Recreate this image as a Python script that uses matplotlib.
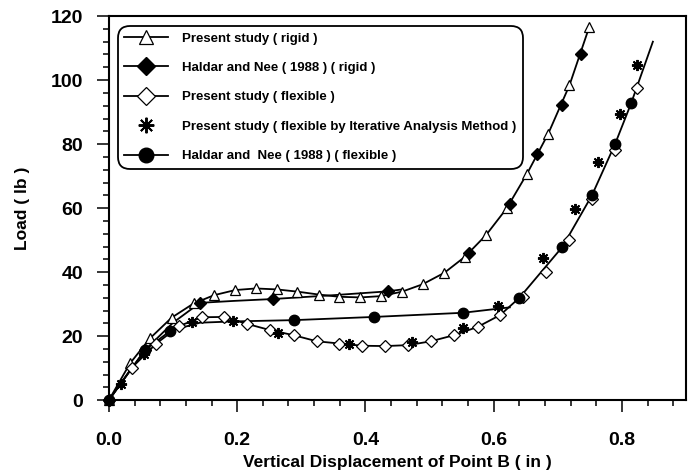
import matplotlib
matplotlib.use("Agg")
import matplotlib.pyplot as plt
from matplotlib.ticker import MultipleLocator
from matplotlib.legend_handler import HandlerTuple

plt.rcParams['font.family'] = ['Liberation Sans', 'DejaVu Sans']
plt.rcParams['font.weight'] = 'bold'

# Present study (rigid) - open triangles
rigid_x = [0, 0.033, 0.064, 0.098, 0.132, 0.164, 0.197, 0.229, 0.262, 0.294, 0.327, 0.359,
           0.392, 0.424, 0.457, 0.489, 0.523, 0.555, 0.588, 0.620, 0.652, 0.685, 0.718, 0.749]
rigid_y = [0, 11.5, 19.3, 25.8, 30.2, 32.8, 34.4, 34.9, 34.6, 33.9, 33.0, 32.3,
           32.1, 32.5, 33.9, 36.2, 39.8, 44.8, 51.6, 59.9, 70.8, 83.3, 98.4, 116.7]

# Haldar and Nee (1988) rigid - filled diamonds
hn_rigid_x = [0, 0.056, 0.142, 0.256, 0.435, 0.561, 0.625, 0.667, 0.706, 0.736]
hn_rigid_y = [0, 15.6, 30.4, 31.6, 34.0, 46.0, 61.2, 76.9, 92.2, 108.2]
# lower branch of the Haldar rigid curve (joins the present-study curve near 0.46)
hn_rigid_curve_x = [0, 0.056, 0.100, 0.142, 0.194, 0.256, 0.350, 0.435, 0.457]
hn_rigid_curve_y = [0, 15.6, 24.2, 30.4, 31.0, 31.6, 32.8, 34.0, 34.6]

# Present study (flexible) - open diamonds
flex_x = [0, 0.036, 0.074, 0.110, 0.145, 0.179, 0.216, 0.251, 0.288, 0.324, 0.359, 0.395,
          0.431, 0.467, 0.502, 0.538, 0.575, 0.610, 0.646, 0.681, 0.718, 0.753, 0.789, 0.824]
flex_y = [0, 10.2, 17.7, 23.2, 25.9, 26.0, 23.8, 21.9, 20.3, 18.4, 17.7, 17.0,
          16.9, 17.2, 18.4, 20.3, 22.9, 26.6, 32.1, 40.1, 50.0, 63.0, 78.1, 97.4]
flex_curve_x = [0, 0.036, 0.074, 0.110, 0.145, 0.179, 0.216, 0.251, 0.288, 0.324, 0.359, 0.395,
                0.431, 0.467, 0.502, 0.538, 0.575, 0.610, 0.640, 0.707, 0.753, 0.789, 0.814, 0.848]
flex_curve_y = [0, 10.2, 17.7, 23.2, 25.9, 26.0, 23.8, 21.9, 20.3, 18.4, 17.7, 17.0,
                16.9, 17.2, 18.4, 20.3, 22.9, 26.6, 32.0, 47.9, 64.0, 80.0, 92.7, 112.0]

# Present study (flexible, iterative analysis) - asterisks, no line
iter_x = [0.019, 0.054, 0.129, 0.194, 0.264, 0.375, 0.472, 0.552, 0.606, 0.677, 0.726, 0.763, 0.796, 0.823]
iter_y = [5.1, 14.3, 24.5, 24.7, 21.1, 17.5, 18.2, 22.7, 29.4, 44.5, 59.6, 74.5, 89.5, 104.7]

# Haldar and Nee (1988) flexible - filled circles
hn_flex_x = [0, 0.056, 0.096, 0.288, 0.413, 0.552, 0.640, 0.707, 0.753, 0.789, 0.814]
hn_flex_y = [0, 15.6, 21.7, 25.0, 26.0, 27.3, 32.0, 47.9, 64.0, 80.0, 92.7]
hn_flex_curve_x = [0, 0.056, 0.096, 0.142, 0.194, 0.288, 0.413, 0.552, 0.625]
hn_flex_curve_y = [0, 15.6, 21.7, 24.2, 24.6, 25.0, 26.0, 27.3, 29.0]

labels = ['Present study ( rigid )',
          'Haldar and Nee ( 1988 ) ( rigid )',
          'Present study ( flexible )',
          'Present study ( flexible by Iterative Analysis Method )',
          'Haldar and  Nee ( 1988 ) ( flexible )']

fig = plt.figure(figsize=(6.89, 4.73), dpi=100)
ax = fig.add_axes([0.158, 0.154, 0.838, 0.812])

lw = 1.3
l1, = ax.plot(rigid_x, rigid_y, color='k', lw=lw, zorder=2)
l2, = ax.plot(hn_rigid_curve_x, hn_rigid_curve_y, color='k', lw=lw, zorder=2)
l3, = ax.plot(flex_curve_x, flex_curve_y, color='k', lw=lw, zorder=2)
l5, = ax.plot(hn_flex_curve_x, hn_flex_curve_y, color='k', lw=lw, zorder=2)

m1, = ax.plot(rigid_x, rigid_y, ls='none', marker='^', ms=7, mfc='white', mec='k', mew=0.9, zorder=3, clip_on=False)
m2, = ax.plot(hn_rigid_x, hn_rigid_y, ls='none', marker='D', ms=6.5, mfc='k', mec='k', zorder=4, clip_on=False)
m3, = ax.plot(flex_x, flex_y, ls='none', marker='D', ms=6.5, mfc='white', mec='k', mew=0.9, zorder=3, clip_on=False)
m4, = ax.plot(iter_x, iter_y, ls='none', marker=(8, 2, 0), ms=8, mec='k', mew=1.4, zorder=5, clip_on=False)
m5, = ax.plot(hn_flex_x, hn_flex_y, ls='none', marker='o', ms=7.5, mfc='k', mec='k', zorder=4, clip_on=False)

ax.set_xlim(0, 0.9)
ax.set_ylim(0, 120)
ax.xaxis.set_major_locator(MultipleLocator(0.2))
ax.xaxis.set_minor_locator(MultipleLocator(0.04))
ax.yaxis.set_major_locator(MultipleLocator(20))
ax.yaxis.set_minor_locator(MultipleLocator(4))
ax.xaxis.set_major_formatter(lambda v, p: '%.1f' % v)
ax.tick_params(which='both', direction='out', width=1.1, top=False, right=False)
ax.tick_params(which='major', length=8.6, labelsize=14)
ax.tick_params(which='minor', length=4)
ax.tick_params(axis='x', which='major', pad=14)
ax.tick_params(axis='y', which='major', pad=10)
for s in ax.spines.values():
    s.set_linewidth(1.5)

ax.set_xlabel('Vertical Displacement of Point B ( in )', fontsize=12.5, fontweight='bold', labelpad=5)
ax.set_ylabel('Load ( lb )', fontsize=12.5, fontweight='bold', labelpad=15)

leg = ax.legend([(l1, m1), (l2, m2), (l3, m3), m4, (l5, m5)], labels,
                handler_map={tuple: HandlerTuple(ndivide=1)},
                loc='upper left', bbox_to_anchor=(0.02, 0.968),
                prop={'weight': 'bold', 'size': 9.5},
                handlelength=3.3, handletextpad=1.05, labelspacing=1.3,
                borderpad=0.3, borderaxespad=0, markerscale=1.4,
                fancybox=True, framealpha=1, edgecolor='k')
leg.get_frame().set_linewidth(1.3)
leg.get_frame().set_boxstyle('round', pad=0.2, rounding_size=0.9)

fig.savefig('out.png', dpi=100)
